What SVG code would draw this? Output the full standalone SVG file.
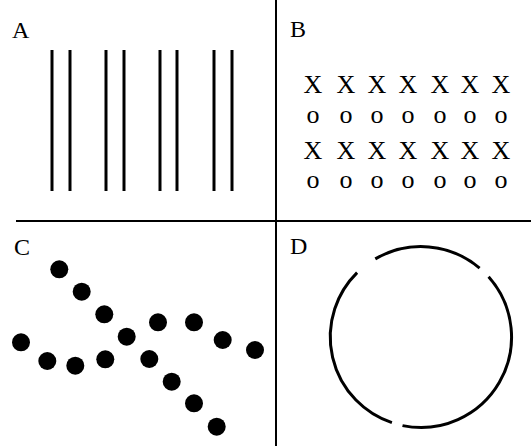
<svg xmlns="http://www.w3.org/2000/svg" width="531" height="446" viewBox="0 0 531 446">
<style>
.lbl{font-family:"Liberation Serif",serif;font-size:24px;fill:#000}
.g{font-family:"Liberation Serif",serif;font-size:26px;fill:#000;text-anchor:middle}
.bar{stroke:#000;stroke-width:3}
.div{stroke:#000;stroke-width:2}
.arc{fill:none;stroke:#000;stroke-width:3}
</style>
<rect width="531" height="446" fill="#fff"/>
<g id="dividers">
<line class="div" x1="276" y1="0" x2="276" y2="446"/>
<line class="div" x1="16" y1="221" x2="531" y2="221"/>
</g>
<g id="panelA">
<text class="lbl" x="12" y="38">A</text>
<line class="bar" x1="52" y1="50" x2="52" y2="191"/>
<line class="bar" x1="70" y1="50" x2="70" y2="191"/>
<line class="bar" x1="106" y1="50" x2="106" y2="191"/>
<line class="bar" x1="124" y1="50" x2="124" y2="191"/>
<line class="bar" x1="160" y1="50" x2="160" y2="191"/>
<line class="bar" x1="177" y1="50" x2="177" y2="191"/>
<line class="bar" x1="214" y1="50" x2="214" y2="191"/>
<line class="bar" x1="232" y1="50" x2="232" y2="191"/>
</g>
<g id="panelB">
<text class="lbl" x="290" y="37">B</text>
<text class="g" y="93"><tspan x="313">X</tspan><tspan x="346">X</tspan><tspan x="377">X</tspan><tspan x="408">X</tspan><tspan x="440">X</tspan><tspan x="470">X</tspan><tspan x="501">X</tspan></text>
<text class="g" y="123"><tspan x="313">o</tspan><tspan x="346">o</tspan><tspan x="377">o</tspan><tspan x="408">o</tspan><tspan x="440">o</tspan><tspan x="470">o</tspan><tspan x="501">o</tspan></text>
<text class="g" y="159"><tspan x="313">X</tspan><tspan x="346">X</tspan><tspan x="377">X</tspan><tspan x="408">X</tspan><tspan x="440">X</tspan><tspan x="470">X</tspan><tspan x="501">X</tspan></text>
<text class="g" y="188"><tspan x="313">o</tspan><tspan x="346">o</tspan><tspan x="377">o</tspan><tspan x="408">o</tspan><tspan x="440">o</tspan><tspan x="470">o</tspan><tspan x="501">o</tspan></text>
</g>
<g id="panelC">
<text class="lbl" x="14" y="255">C</text>
<g fill="#000">
<circle cx="59.3" cy="269.3" r="9"/>
<circle cx="81.7" cy="291.7" r="9"/>
<circle cx="104.3" cy="314.3" r="9"/>
<circle cx="126.7" cy="336.7" r="9"/>
<circle cx="149.3" cy="359" r="9"/>
<circle cx="171.7" cy="381.7" r="9"/>
<circle cx="194" cy="403.3" r="9"/>
<circle cx="216.7" cy="426.7" r="9"/>
<circle cx="21" cy="342.3" r="9"/>
<circle cx="47.3" cy="361" r="9"/>
<circle cx="75.3" cy="365.7" r="9"/>
<circle cx="105.3" cy="359.3" r="9"/>
<circle cx="158" cy="322.3" r="9"/>
<circle cx="194" cy="322.3" r="9"/>
<circle cx="222.7" cy="340" r="9"/>
<circle cx="255" cy="350" r="9"/>
</g>
</g>
<g id="panelD">
<text class="lbl" x="290" y="254">D</text>
<path class="arc" d="M 375.3 258.9 A 90.5 90.5 0 0 1 479.6 268.1"/>
<path class="arc" d="M 488.6 276.8 A 90.5 90.5 0 0 1 402.5 425.6"/>
<path class="arc" d="M 391.9 422.7 A 90.5 90.5 0 0 1 357.1 272.6"/>
</g>
</svg>
